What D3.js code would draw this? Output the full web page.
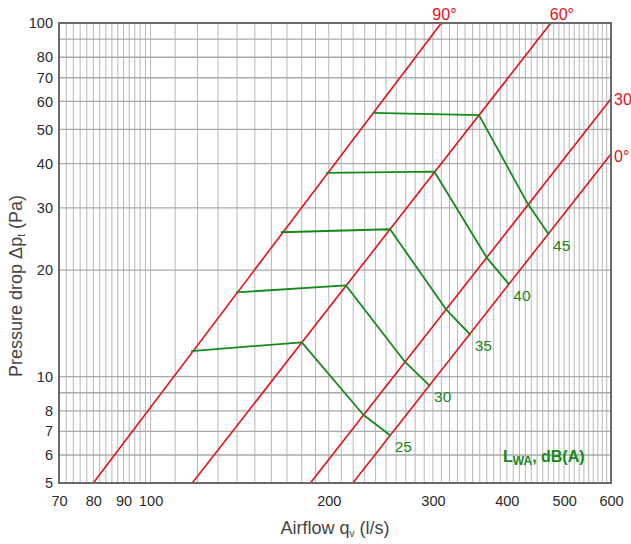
<!DOCTYPE html>
<html>
<head>
<meta charset="utf-8">
<script src="https://cdn.jsdelivr.net/npm/d3@7"></script>
<style>
  body { margin: 0; background: #fff; }
  text { font-family: "Liberation Sans", Arial, Helvetica, sans-serif; }
</style>
</head>
<body>
<div id="chart"></div>
<script>
// ******************************** DATA ***************************************
// Axis tick labels
var xTickValues = [70, 80, 90, 100, 200, 300, 400, 500, 600];
var yTickValues = [5, 6, 7, 8, 10, 20, 30, 40, 50, 60, 70, 80, 100];

// Damper angle lines, [airflow l/s, pressure Pa] at both ends
var angleNames = ["90°", "60°", "30°", "0°"];
var line90 = [[80, 5], [310, 100]];
var line60 = [[117.6, 5], [474.7, 100]];
var line30 = [[186.2, 5], [600, 61.1]];
var line0 = [[219.7, 5], [600, 42.6]];

// Sound power level lines LWA dB(A)
var soundLevels = [25, 30, 35, 40, 45];
var sound25 = [[117.1, 11.8], [180.1, 12.5], [228.8, 7.8], [254.6, 6.8]];
var sound30 = [[139.4, 17.3], [213.9, 18.1], [269.2, 11.0], [296.7, 9.4]];
var sound35 = [[165.9, 25.6], [253.9, 26.1], [315.7, 15.5], [347.6, 13.1]];
var sound40 = [[197.9, 37.7], [301.6, 38.0], [369.9, 21.7], [403.9, 18.2]];
var sound45 = [[237.4, 55.7], [359.0, 54.9], [434.0, 30.8], [471.4, 25.2]];

// ************************** CANVAS SET UP ************************************
var margin = {left: 59, right: 20, top: 23, bottom: 61};
var svgWidth = 631,
    svgHeight = 544;
var chartWidth = svgWidth - margin.left - margin.right,   // 552
    chartHeight = svgHeight - margin.top - margin.bottom; // 460

var red = "#e3101c",
    green = "#16891a";

var svg = d3.select("#chart")
  .append("svg")
    .attr("width", svgWidth)
    .attr("height", svgHeight);

var chart = svg.append("g")
  .attr("transform", `translate(${margin.left}, ${margin.top})`);

// ******************************* SCALES **************************************
var x = d3.scaleLog()
  .domain([70, 600])
  .range([0, chartWidth]);

var y = d3.scaleLog()
  .domain([5, 100])
  .range([chartHeight, 0]);

// ******************************** GRID ***************************************
var gridX = d3.range(70, 100, 2).concat(d3.range(100, 601, 10));
var gridY = [5, 6, 7, 8, 9, 10, 20, 30, 40, 50, 60, 70, 80, 90, 100];

chart.append("g")
  .selectAll("line")
  .data(gridX)
  .enter()
  .append("line")
    .attr("x1", d => x(d))
    .attr("x2", d => x(d))
    .attr("y1", 0)
    .attr("y2", chartHeight)
    .attr("stroke", "#b8b8b8")
    .attr("stroke-width", 1);

chart.append("g")
  .selectAll("line")
  .data(gridY)
  .enter()
  .append("line")
    .attr("x1", 0)
    .attr("x2", chartWidth)
    .attr("y1", d => y(d))
    .attr("y2", d => y(d))
    .attr("stroke", "#aaaaaa")
    .attr("stroke-width", 1.3);

// ******************************** AXES ***************************************
var xAxis = d3.axisBottom(x)
  .tickValues(xTickValues)
  .tickFormat(d3.format("d"))
  .tickSize(0)
  .tickPadding(13);

var yAxis = d3.axisLeft(y)
  .tickValues(yTickValues)
  .tickFormat(d3.format("d"))
  .tickSize(0)
  .tickPadding(6);

var gx = chart.append("g")
  .attr("transform", `translate(0, ${chartHeight})`)
  .call(xAxis);

var gy = chart.append("g")
  .call(yAxis);

[gx, gy].forEach(function(g) {
  g.select(".domain").remove();
  g.selectAll("text")
    .attr("fill", "#2a2a2a")
    .style("font-size", "14.5px");
});

// ******************************** LINES **************************************
var line = d3.line()
  .x(d => x(d[0]))
  .y(d => y(d[1]));

var angleLines = [line90, line60, line30, line0];
var angleLabelOffset = [[-9, -3], [-1, -3], [3, 6], [3, 8]];

chart.append("g")
  .selectAll("path")
  .data(angleLines)
  .enter()
  .append("path")
    .attr("d", line)
    .attr("fill", "none")
    .attr("stroke", red)
    .attr("stroke-width", 1.6);

chart.append("g")
  .selectAll("text")
  .data(angleLines)
  .enter()
  .append("text")
    .attr("x", (d, i) => x(d[1][0]) + angleLabelOffset[i][0])
    .attr("y", (d, i) => y(d[1][1]) + angleLabelOffset[i][1])
    .attr("fill", red)
    .style("font-size", "16px")
    .text((d, i) => angleNames[i]);

var soundLines = [sound25, sound30, sound35, sound40, sound45];

chart.append("g")
  .selectAll("path")
  .data(soundLines)
  .enter()
  .append("path")
    .attr("d", line)
    .attr("fill", "none")
    .attr("stroke", green)
    .attr("stroke-width", 1.8)
    .attr("stroke-linejoin", "round");

chart.append("g")
  .selectAll("text")
  .data(soundLines)
  .enter()
  .append("text")
    .attr("x", d => x(d[3][0]) + 4)
    .attr("y", d => y(d[3][1]) + 16)
    .attr("fill", green)
    .style("font-size", "15.5px")
    .text((d, i) => soundLevels[i]);

// Frame
chart.append("rect")
  .attr("width", chartWidth)
  .attr("height", chartHeight)
  .attr("fill", "none")
  .attr("stroke", "#6a6a6a")
  .attr("stroke-width", 2);

// ******************************* LABELS **************************************
var legend = chart.append("text")
  .attr("x", 444)
  .attr("y", 439)
  .attr("fill", green)
  .style("font-size", "16px")
  .style("font-weight", "bold");
legend.append("tspan").text("L");
legend.append("tspan").attr("dy", 3).style("font-size", "12px").text("WA");
legend.append("tspan").attr("dy", -3).text(", dB(A)");

var xTitle = svg.append("text")
  .attr("x", margin.left + chartWidth / 2)
  .attr("y", 534)
  .attr("text-anchor", "middle")
  .attr("fill", "#444")
  .style("font-size", "18px");
xTitle.append("tspan").text("Airflow q");
xTitle.append("tspan").attr("dy", 3).style("font-size", "10px").text("v");
xTitle.append("tspan").attr("dy", -3).text(" (l/s)");

var yTitle = svg.append("text")
  .attr("transform", "translate(22, 286) rotate(-90)")
  .attr("text-anchor", "middle")
  .attr("fill", "#444")
  .style("font-size", "18px");
yTitle.append("tspan").text("Pressure drop Δp");
yTitle.append("tspan").attr("dy", 3).style("font-size", "10px").text("t");
yTitle.append("tspan").attr("dy", -3).text(" (Pa)");
</script>
</body>
</html>
